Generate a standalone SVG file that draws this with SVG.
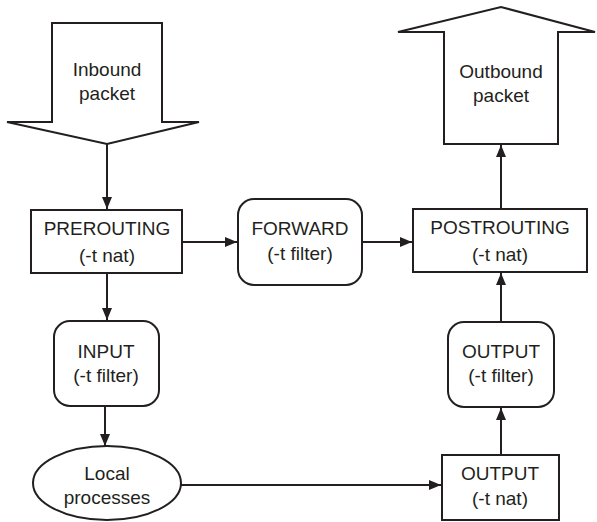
<svg xmlns="http://www.w3.org/2000/svg" width="597" height="522" viewBox="0 0 597 522">
  <defs>
    <marker id="arrow" viewBox="0 0 12 10" refX="12" refY="5" markerWidth="12" markerHeight="10" markerUnits="userSpaceOnUse" orient="auto">
      <path d="M0,0 L12,5 L0,10 Z" fill="#231f20"/>
    </marker>
    <style>
      .shape { fill: #ffffff; stroke: #231f20; stroke-width: 2; }
      .edge { fill: none; stroke: #231f20; stroke-width: 2; marker-end: url(#arrow); }
      .line { fill: none; stroke: #231f20; stroke-width: 2; }
      text { font-family: "Liberation Sans", Arial, sans-serif; font-size: 19px; fill: #231f20; text-anchor: middle; }
    </style>
  </defs>
  <rect width="597" height="522" fill="#ffffff"/>

  <!-- big block arrows for packets entering and leaving -->
  <g id="inbound">
    <path class="shape" d="M52,23 L162,23 L162,122 L199,122 L107,144 L7,122 L52,122 Z"/>
    <text x="107" y="76">Inbound</text>
    <text x="107" y="100">packet</text>
  </g>
  <g id="outbound">
    <path class="shape" d="M444,144 L558,144 L558,32 L595,32 L501,7 L398,32 L444,32 Z"/>
    <text x="501" y="78">Outbound</text>
    <text x="501" y="102">packet</text>
  </g>

  <!-- chains -->
  <g id="prerouting">
    <rect class="shape" x="31" y="210" width="151" height="63"/>
    <text x="107" y="235">PREROUTING</text>
    <text x="107" y="262">(-t nat)</text>
  </g>
  <g id="forward">
    <rect class="shape" x="238" y="199" width="124" height="86" rx="16" ry="16"/>
    <text x="300" y="235">FORWARD</text>
    <text x="300" y="260">(-t filter)</text>
  </g>
  <g id="postrouting">
    <rect class="shape" x="413" y="209" width="174" height="63"/>
    <text x="500" y="234">POSTROUTING</text>
    <text x="500" y="261">(-t nat)</text>
  </g>
  <g id="input">
    <rect class="shape" x="54" y="321" width="105" height="85" rx="16" ry="16"/>
    <text x="106" y="358">INPUT</text>
    <text x="106" y="382">(-t filter)</text>
  </g>
  <g id="output-filter">
    <rect class="shape" x="448" y="322" width="106" height="85" rx="16" ry="16"/>
    <text x="501" y="358">OUTPUT</text>
    <text x="501" y="382">(-t filter)</text>
  </g>
  <g id="local-processes">
    <ellipse class="shape" cx="107" cy="483" rx="74" ry="37"/>
    <text x="107" y="480">Local</text>
    <text x="107" y="504">processes</text>
  </g>
  <g id="output-nat">
    <rect class="shape" x="442" y="455" width="117" height="65"/>
    <text x="500" y="480">OUTPUT</text>
    <text x="500" y="505">(-t nat)</text>
  </g>

  <!-- connectors -->
  <g id="connectors">
    <line class="edge" x1="107" y1="144" x2="107" y2="209"/>
    <line class="edge" x1="182" y1="242" x2="237" y2="242"/>
    <line class="edge" x1="362" y1="242" x2="412" y2="242"/>
    <line class="edge" x1="501" y1="209" x2="501" y2="145"/>
    <line class="edge" x1="107" y1="273" x2="107" y2="320"/>
    <line class="edge" x1="105" y1="406" x2="105" y2="446"/>
    <line class="edge" x1="181" y1="485" x2="441" y2="485"/>
    <line class="edge" x1="501" y1="455" x2="501" y2="408"/>
    <line class="edge" x1="501" y1="322" x2="501" y2="273"/>
  </g>
</svg>
